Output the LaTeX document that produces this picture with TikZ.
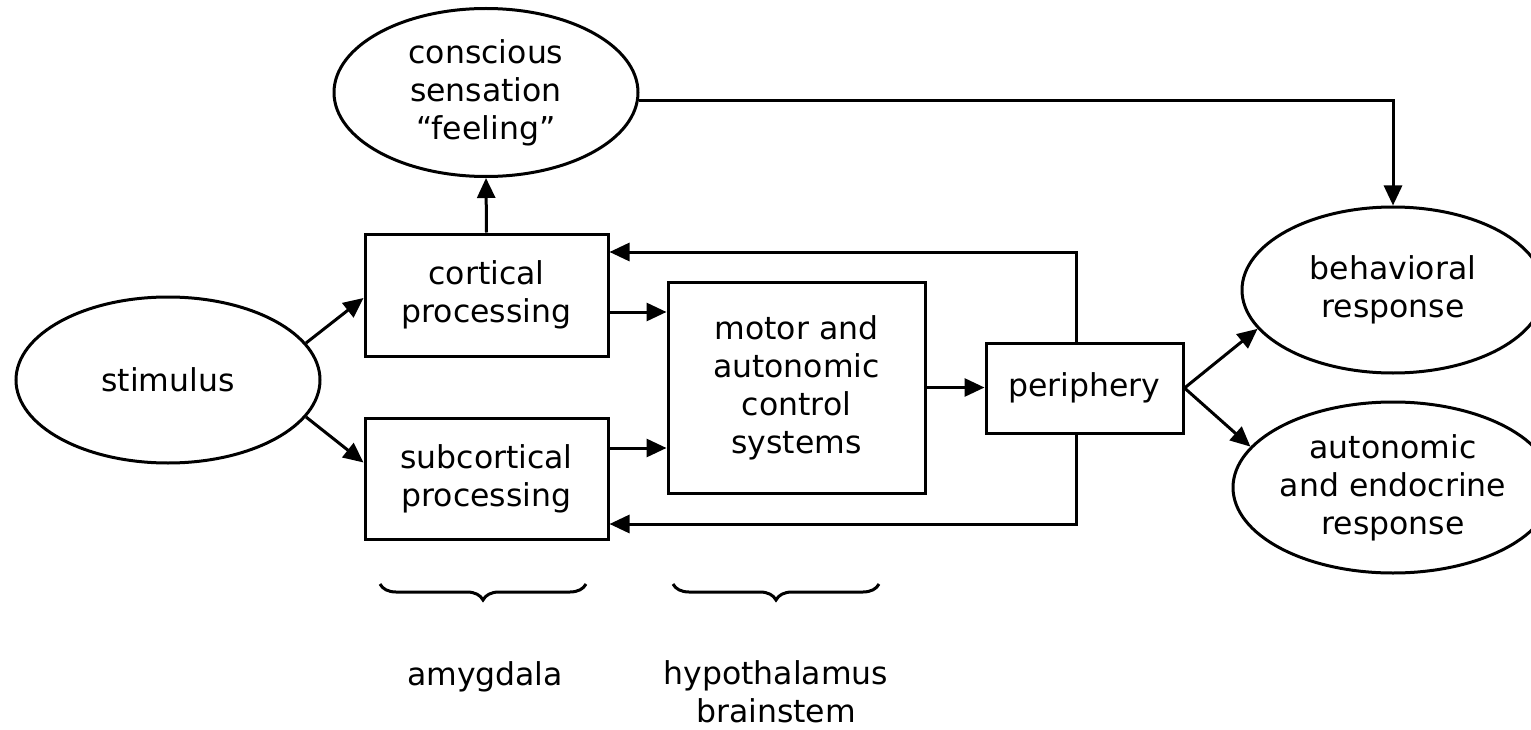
\documentclass[tikz,border=0pt]{standalone}
\usepackage{fontspec}
\setmainfont{DejaVu Sans}
\usetikzlibrary{shapes.geometric,arrows.meta,decorations.pathreplacing,calc}
\begin{document}
\begin{tikzpicture}[x=1pt,y=-1pt,
  every node/.style={font=\fontsize{31.5}{38}\selectfont, align=center, inner sep=0pt},
  oval/.style={draw, ellipse, line width=3pt},
  box/.style={draw, rectangle, line width=3pt},
  conn/.style={line width=3pt, -{Triangle[length=20pt,width=18pt]}},
  brc/.style={line width=3pt, decorate, decoration={brace,mirror,amplitude=16pt}}
]
\useasboundingbox (0,0) rectangle (1531,730);
\clip (0,0) rectangle (1531,730);

\node[oval, minimum width=304pt, minimum height=166pt] (stim) at (168,380) {stimulus};
\node[oval, minimum width=304pt, minimum height=168pt] (consc) at (486,92.5) {conscious\\sensation\\“feeling”};
\node[oval, minimum width=302pt, minimum height=166pt] (behav) at (1393,290) {behavioral\\response};
\node[oval, minimum width=302pt, minimum height=171pt] (auto) at (1393,487.5) {autonomic\\and endocrine\\response};
\node[box, minimum width=243pt, minimum height=122pt] (cort) at (486.5,295) {cortical\\processing};
\node[box, minimum width=243pt, minimum height=121pt] (subc) at (486.5,478.5) {subcortical\\processing};
\node[box, minimum width=257pt, minimum height=211pt] (motor) at (796.5,387.5) {motor and\\autonomic\\control\\systems};
\node[box, minimum width=197pt, minimum height=90pt] (peri) at (1084.5,388) {periphery};

\draw[conn] (stim.15) -- ([yshift=-3pt]cort.west);
\draw[conn] (stim.-15) -- ([yshift=16pt]subc.west);
\draw[conn] (cort.north) -- (consc.south);
\draw[conn] ([yshift=-17pt]cort.east) -- ([yshift=-17pt]cort.east -| motor.west);
\draw[conn] ([yshift=30.5pt]subc.east) -- ([yshift=30.5pt]subc.east -| motor.west);
\draw[conn] (motor.east) -- (motor.east -| peri.west);
\draw[conn] ([xshift=-8.5pt]peri.north) |- ([yshift=43pt]cort.east);
\draw[conn] ([xshift=-8.5pt]peri.south) |- ([yshift=-45.5pt]subc.east);
\draw[conn] (peri.east) -- (behav.196);
\draw[conn] (peri.east) -- (auto.164);
\draw[conn] (consc.-3) -| (behav.north);

\coordinate (b1l) at (380,584);
\coordinate (b1r) at (586,584);
\coordinate (b2l) at (673,584);
\coordinate (b2r) at (879,584);
\draw[brc] (b1l) -- (b1r);
\draw[brc] (b2l) -- (b2r);

\node (amyg) at (485,677) {amygdala};
\node (hypo) at (776,692) {hypothalamus\\brainstem};
\end{tikzpicture}
\end{document}
